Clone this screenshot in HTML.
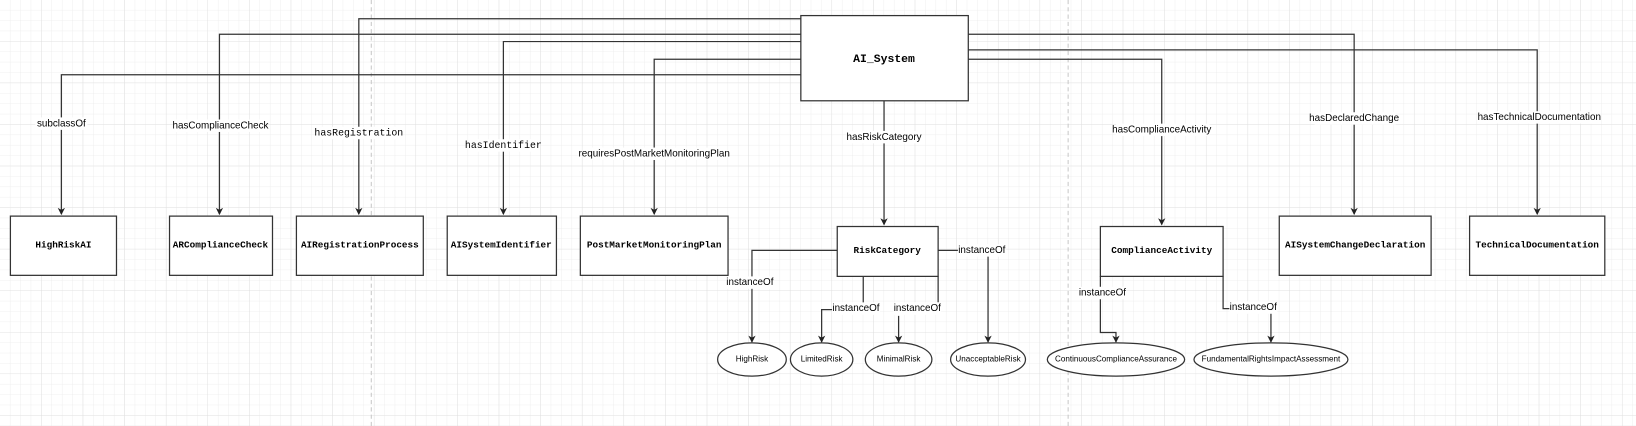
<!DOCTYPE html>
<html><head><meta charset="utf-8"><style>
html,body{margin:0;padding:0;background:#fff;}
svg{display:block;}
.b{font-family:"Liberation Mono",monospace;font-weight:bold;font-size:9px;text-anchor:middle;dominant-baseline:middle;}
.l{font-family:"Liberation Sans",sans-serif;font-size:9.5px;text-anchor:middle;dominant-baseline:middle;}
.m{font-family:"Liberation Mono",monospace;font-size:9.5px;text-anchor:middle;dominant-baseline:middle;}
.e{font-family:"Liberation Sans",sans-serif;font-size:7.8px;text-anchor:middle;dominant-baseline:middle;}
</style></head><body>
<svg width="1636" height="426" viewBox="0 0 1573 410" preserveAspectRatio="none" xmlns="http://www.w3.org/2000/svg">
<defs>
<pattern id="g" width="10" height="10" patternUnits="userSpaceOnUse"><path d="M10 0V10M0 10H10" stroke="#ececec" stroke-width="0.8" fill="none"/></pattern>
<pattern id="G" width="40" height="40" patternUnits="userSpaceOnUse"><path d="M40 0V40M0 40H40" stroke="#dedede" stroke-width="0.8" fill="none"/></pattern>
<marker id="a" markerWidth="8" markerHeight="8" refX="6" refY="4" orient="auto" markerUnits="userSpaceOnUse"><path d="M0,0.5 L7,4 L0,7.5 L2,4 z" fill="#222"/></marker>
</defs>
<rect width="1573" height="410" fill="url(#g)"/>
<rect width="1573" height="410" fill="url(#G)"/>
<line x1="357" y1="0" x2="357" y2="410" stroke="#c8c8c8" stroke-dasharray="4,3"/>
<line x1="1027" y1="0" x2="1027" y2="410" stroke="#c8c8c8" stroke-dasharray="4,3"/>
<g stroke="#333" stroke-width="1.2" fill="none">
<path d="M770 18 H345 V206" marker-end="url(#a)"/>
<path d="M770 33 H211 V206" marker-end="url(#a)"/>
<path d="M770 40 H484 V206" marker-end="url(#a)"/>
<path d="M770 57 H629 V206" marker-end="url(#a)"/>
<path d="M770 72 H59 V206" marker-end="url(#a)"/>
<path d="M850 97 V216" marker-end="url(#a)"/>
<path d="M931 33 H1302 V206" marker-end="url(#a)"/>
<path d="M931 48 H1478 V206" marker-end="url(#a)"/>
<path d="M931 57 H1117 V216" marker-end="url(#a)"/>
<path d="M805 241 H723 V329" marker-end="url(#a)"/>
<path d="M830 266 V298 H790 V329" marker-end="url(#a)"/>
<path d="M902 266 V291"/>
<path d="M864 304 V329" marker-end="url(#a)"/>
<path d="M902 241 H950 V329" marker-end="url(#a)"/>
<path d="M1058 266 V320 H1073 V329" marker-end="url(#a)"/>
<path d="M1176 266 V297 H1222 V329" marker-end="url(#a)"/>
</g>
<g fill="#fff" stroke="#333" stroke-width="1.2">
<rect x="770" y="15" width="161" height="82"/>
<rect x="10" y="208" width="102" height="57"/>
<rect x="163" y="208" width="99" height="57"/>
<rect x="285" y="208" width="122" height="57"/>
<rect x="430" y="208" width="105" height="57"/>
<rect x="558" y="208" width="142" height="57"/>
<rect x="805" y="218" width="97" height="48"/>
<rect x="1058" y="218" width="118" height="48"/>
<rect x="1230" y="208" width="146" height="57"/>
<rect x="1413" y="208" width="130" height="57"/>
<ellipse cx="723" cy="346" rx="33" ry="16"/>
<ellipse cx="790" cy="346" rx="30" ry="16"/>
<ellipse cx="864" cy="346" rx="32" ry="16"/>
<ellipse cx="950" cy="346" rx="36" ry="16"/>
<ellipse cx="1073" cy="346" rx="66" ry="16"/>
<ellipse cx="1222" cy="346" rx="74" ry="16"/>
</g>
<text class="b" x="850" y="57" style="font-size:11px">AI_System</text>
<text class="b" x="61" y="236">HighRiskAI</text>
<text class="b" x="212" y="236">ARComplianceCheck</text>
<text class="b" x="346" y="236">AIRegistrationProcess</text>
<text class="b" x="482" y="236">AISystemIdentifier</text>
<text class="b" x="629" y="236">PostMarketMonitoringPlan</text>
<text class="b" x="853" y="241">RiskCategory</text>
<text class="b" x="1117" y="241">ComplianceActivity</text>
<text class="b" x="1303" y="236">AISystemChangeDeclaration</text>
<text class="b" x="1478" y="236">TechnicalDocumentation</text>
<g fill="#fff">
<rect x="34" y="113" width="50" height="12"/>
<rect x="168" y="115" width="88" height="12"/>
<rect x="306" y="122" width="78" height="12"/>
<rect x="452" y="134" width="64" height="12"/>
<rect x="560" y="142" width="138" height="12"/>
<rect x="814" y="126" width="72" height="12"/>
<rect x="1073" y="119" width="90" height="12"/>
<rect x="1264" y="108" width="78" height="12"/>
<rect x="1428" y="107" width="104" height="12"/>
<rect x="698" y="266" width="46" height="12"/>
<rect x="800" y="291" width="46" height="12"/>
<rect x="859" y="291" width="46" height="12"/>
<rect x="921" y="235" width="46" height="12"/>
<rect x="1037" y="276" width="46" height="12"/>
<rect x="1182" y="290" width="46" height="12"/>
</g>
<text class="l" x="59" y="119">subclassOf</text>
<text class="l" x="212" y="121">hasComplianceCheck</text>
<text class="m" x="345" y="128">hasRegistration</text>
<text class="m" x="484" y="140">hasIdentifier</text>
<text class="l" x="629" y="148">requiresPostMarketMonitoringPlan</text>
<text class="l" x="850" y="132">hasRiskCategory</text>
<text class="l" x="1117" y="125">hasComplianceActivity</text>
<text class="l" x="1302" y="114">hasDeclaredChange</text>
<text class="l" x="1480" y="113">hasTechnicalDocumentation</text>
<text class="l" x="721" y="272">instanceOf</text>
<text class="l" x="823" y="297">instanceOf</text>
<text class="l" x="882" y="297">instanceOf</text>
<text class="l" x="944" y="241">instanceOf</text>
<text class="l" x="1060" y="282">instanceOf</text>
<text class="l" x="1205" y="296">instanceOf</text>
<text class="e" x="723" y="346">HighRisk</text>
<text class="e" x="790" y="346">LimitedRisk</text>
<text class="e" x="864" y="346">MinimalRisk</text>
<text class="e" x="950" y="346">UnacceptableRisk</text>
<text class="e" x="1073" y="346">ContinuousComplianceAssurance</text>
<text class="e" x="1222" y="346">FundamentalRightsImpactAssessment</text>
</svg>
</body></html>
